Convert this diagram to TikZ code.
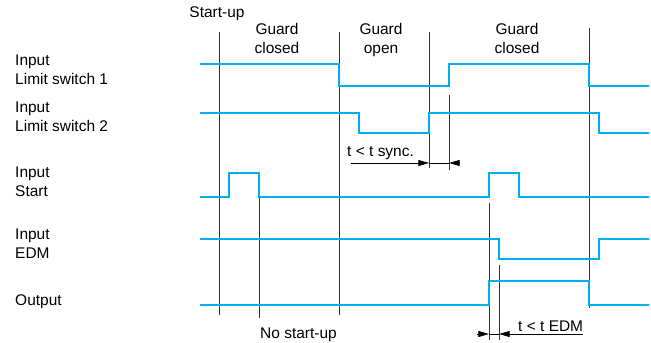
\documentclass[tikz,border=0pt]{standalone}
\usepackage{fontspec}
\setmainfont{Liberation Sans}
\usepackage{tikz}
\usetikzlibrary{arrows.meta}
\definecolor{sigblue}{HTML}{00AEEF}
\definecolor{tgray}{HTML}{333333}

\begin{document}
\begin{tikzpicture}[x=0.3mm,y=-0.3mm,
  sig/.style={sigblue,line width=0.85mm},
  tline/.style={tgray,line width=0.6pt},
  dim/.style={black,line width=0.6pt},
  tip/.style={-{Triangle[length=3.2mm,width=1.8mm]}},
  lbl/.style={inner sep=0,font=\fontsize{13.2}{16.2}\selectfont}]
\useasboundingbox (0,0) rectangle (651,343);
% time marks
\draw[tline] (219,32)--(219,315);
\draw[tline] (259,197)--(259,318);
\draw[tline] (339,32)--(339,315);
\draw[tline] (429,32)--(429,168);
\draw[tline] (449,95)--(449,170);
\draw[tline] (589,28)--(589,308);
\draw[tline] (489,203)--(489,340);
\draw[tline] (499,265)--(499,340);
% signals
\draw[sig] (200,64)--(339,64)--(339,86)--(449,86)--(449,64)--(589,64)--(589,86)--(649,86);
\draw[sig] (200,113)--(359,113)--(359,133)--(429,133)--(429,113)--(599,113)--(599,133)--(649,133);
\draw[sig] (200,197)--(229,197)--(229,173)--(259,173)--(259,197)--(489,197)--(489,173)--(519,173)--(519,197)--(649,197);
\draw[sig] (200,239)--(499,239)--(499,259)--(599,259)--(599,239)--(649,239);
\draw[sig] (200,305)--(489,305)--(489,281)--(589,281)--(589,305)--(649,305);
% signal names
\node[lbl,anchor=north west,align=left] (ls1) at (15,55) {Input\\Limit switch 1};
\node[lbl,anchor=north west,align=left] (ls2) at (15,102) {Input\\Limit switch 2};
\node[lbl,anchor=north west,align=left] (start) at (15,167) {Input\\Start};
\node[lbl,anchor=north west,align=left] (edm) at (15,229) {Input\\EDM};
\node[lbl,anchor=north west,align=left] (out) at (15,294) {Output};
% phases
\node[lbl,anchor=north] (startup) at (217,6) {Start-up};
\node[lbl,anchor=north,align=center] (gc1) at (277,23) {Guard\\closed};
\node[lbl,anchor=north,align=center] (go) at (381,23) {Guard\\open};
\node[lbl,anchor=north,align=center] (gc2) at (517,23) {Guard\\closed};
% times
\node[lbl,anchor=base west] (sync) at (347,157) {t < t sync.};
\draw[dim,tip] (351,163)--(429,163);
\draw[dim] (429,163)--(449,163);
\draw[dim,tip] (460,163)--(449,163);
\node[lbl,anchor=base west] (nostart) at (260,338) {No start-up};
\node[lbl,anchor=base west] (tedm) at (518,331) {t < t EDM};
\draw[dim,tip] (477,334)--(489,334);
\draw[dim] (489,334)--(499,334);
\draw[dim,tip] (583,334)--(499,334);
\end{tikzpicture}
\end{document}
